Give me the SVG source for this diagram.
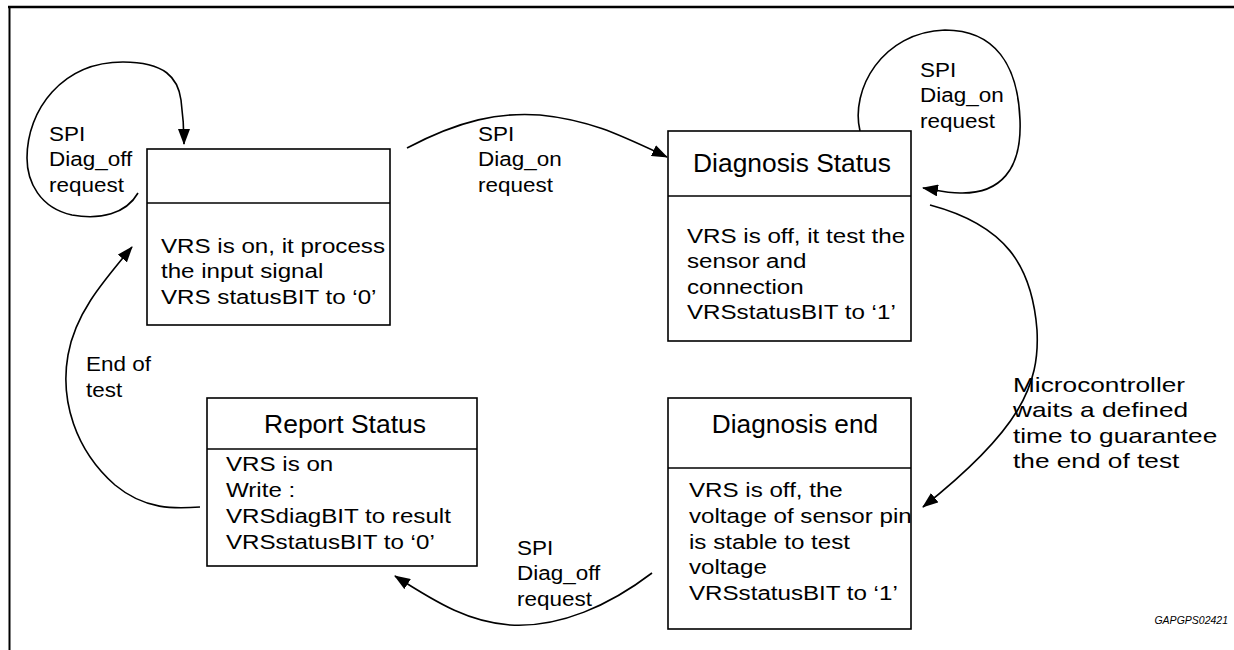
<svg xmlns="http://www.w3.org/2000/svg" width="1234" height="650" viewBox="0 0 1234 650">
<style>
.box{fill:#fff;stroke:#000;stroke-width:1.6}
.div{stroke:#000;stroke-width:1.6}
.t{font-family:"Liberation Sans",Arial,sans-serif;font-size:21px;fill:#000}
.h{font-family:"Liberation Sans",Arial,sans-serif;font-size:25px;fill:#000;text-anchor:middle}
.c{fill:none;stroke:#000;stroke-width:1.6}
.frame{stroke:#000;fill:none}
.id{font-family:"Liberation Sans",Arial,sans-serif;font-size:10.5px;font-style:italic;fill:#000;text-anchor:end}
</style>
<defs>
<marker id="ah" markerWidth="16" markerHeight="12" refX="15" refY="6" orient="auto" markerUnits="userSpaceOnUse">
<path d="M0,0 L16,6 L0,12 z" fill="#000"/>
</marker>
</defs>
<rect width="1234" height="650" fill="#fff"/>
<g id="frame">
<line class="frame" x1="8" y1="7" x2="1234" y2="7" stroke-width="2.6"/>
<line class="frame" x1="9.5" y1="6" x2="9.5" y2="650" stroke-width="2"/>
</g>
<g id="connectors">
<path class="c" marker-end="url(#ah)" d="M138,193 C126,214 100,220 72,215 C40,208 27,182 27,158 C27,110 62,62 123,62 C165,62 178,78 181,100 C183,115 184,128 184,144"/>
<path class="c" marker-end="url(#ah)" d="M407,148 C460,120 500,112 540,115 C590,120 620,135 667,157"/>
<path class="c" marker-end="url(#ah)" d="M860,131 C850,90 882,32 945,30 C995,30 1018,65 1020,120 C1022,170 1000,194 960,193 C948,193 935,190 923,188"/>
<path class="c" marker-end="url(#ah)" d="M930,205 C1005,225 1032,265 1037,330 C1040,385 1020,430 923,507"/>
<path class="c" marker-end="url(#ah)" d="M652,573 C610,605 560,628 510,625 C470,622 440,605 395,576"/>
<path class="c" marker-end="url(#ah)" d="M200,507 C175,509 145,510 115,485 C75,450 60,400 68,355 C75,315 100,285 132,247"/>
</g>
<g id="node-vrs-on">
<rect class="box" x="147" y="149" width="243" height="176"/>
<line class="div" x1="147" y1="203" x2="390" y2="203"/>
<text class="t" transform="translate(161,253) scale(1.15,1)"><tspan x="0" y="0">VRS is on, it process</tspan><tspan x="0" y="25.5">the input signal</tspan><tspan x="0" y="51">VRS statusBIT to ‘0’</tspan></text>
</g>
<g id="node-diagnosis-status">
<rect class="box" x="668" y="131" width="243" height="210"/>
<line class="div" x1="668" y1="196" x2="911" y2="196"/>
<text class="h" transform="translate(792,172) scale(1.055,1)">Diagnosis Status</text>
<text class="t" transform="translate(687,243) scale(1.15,1)"><tspan x="0" y="0">VRS is off, it test the</tspan><tspan x="0" y="25.5">sensor and</tspan><tspan x="0" y="51">connection</tspan><tspan x="0" y="76.5">VRSstatusBIT to ‘1’</tspan></text>
</g>
<g id="node-report-status">
<rect class="box" x="207" y="398" width="270" height="168"/>
<line class="div" x1="207" y1="449" x2="477" y2="449"/>
<text class="h" transform="translate(345,433) scale(1.06,1)">Report Status</text>
<text class="t" transform="translate(226,471) scale(1.15,1)"><tspan x="0" y="0">VRS is on</tspan><tspan x="0" y="26">Write :</tspan><tspan x="0" y="52">VRSdiagBIT to result</tspan><tspan x="0" y="78">VRSstatusBIT to ‘0’</tspan></text>
</g>
<g id="node-diagnosis-end">
<rect class="box" x="668" y="398" width="243" height="231"/>
<line class="div" x1="668" y1="468" x2="911" y2="468"/>
<text class="h" transform="translate(795,433) scale(1.05,1)">Diagnosis end</text>
<text class="t" transform="translate(689,497) scale(1.15,1)"><tspan x="0" y="0">VRS is off, the</tspan><tspan x="0" y="26">voltage of sensor pin</tspan><tspan x="0" y="52">is stable to test</tspan><tspan x="0" y="77">voltage</tspan><tspan x="0" y="103">VRSstatusBIT to ‘1’</tspan></text>
</g>
<g id="labels">
<text class="t" transform="translate(49,141) scale(1.07,1)"><tspan x="0" y="0">SPI</tspan><tspan x="0" y="25.5">Diag_off</tspan><tspan x="0" y="51">request</tspan></text>
<text class="t" transform="translate(478,141) scale(1.07,1)"><tspan x="0" y="0">SPI</tspan><tspan x="0" y="25.5">Diag_on</tspan><tspan x="0" y="51">request</tspan></text>
<text class="t" transform="translate(920,77) scale(1.07,1)"><tspan x="0" y="0">SPI</tspan><tspan x="0" y="25.5">Diag_on</tspan><tspan x="0" y="51">request</tspan></text>
<text class="t" transform="translate(1013,392) scale(1.25,1)"><tspan x="0" y="0">Microcontroller</tspan><tspan x="0" y="25.5">waits a defined</tspan><tspan x="0" y="51">time to guarantee</tspan><tspan x="0" y="76.5">the end of test</tspan></text>
<text class="t" transform="translate(86,371) scale(1.07,1)"><tspan x="0" y="0">End of</tspan><tspan x="0" y="26">test</tspan></text>
<text class="t" transform="translate(517,555) scale(1.07,1)"><tspan x="0" y="0">SPI</tspan><tspan x="0" y="25.5">Diag_off</tspan><tspan x="0" y="51">request</tspan></text>
<text class="id" x="1228" y="624">GAPGPS02421</text>
</g>
</svg>
